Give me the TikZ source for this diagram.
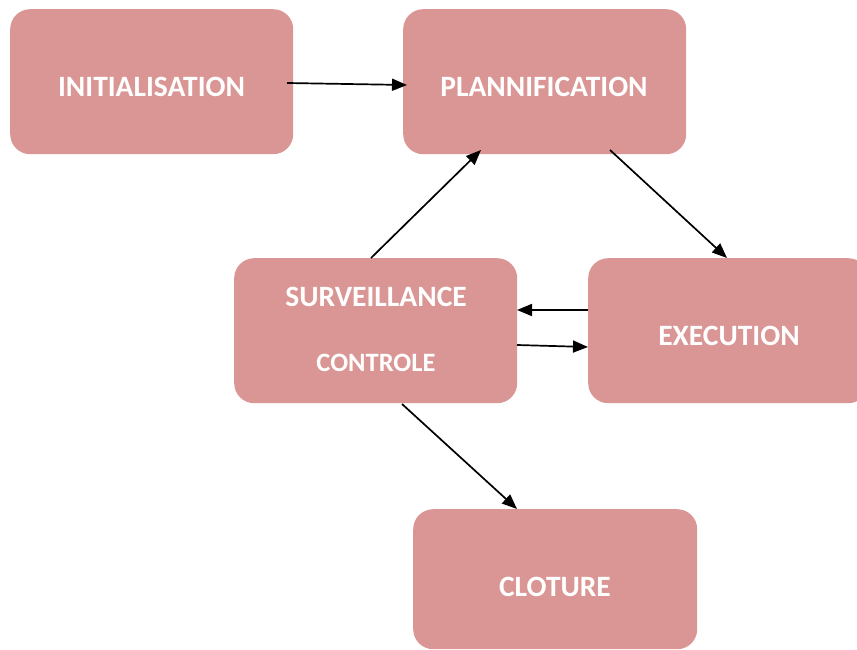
\documentclass[tikz,border=0pt]{standalone}
\usepackage{fontspec}
\setmainfont{Carlito}
\usetikzlibrary{arrows.meta}
\definecolor{boxfill}{HTML}{DA9694}
\begin{document}
\begin{tikzpicture}[x=1pt,y=-1pt,
  stagebox/.style={fill=boxfill,draw=none,rounded corners=20pt,inner sep=0pt},
  lbl/.style={text=white,font=\bfseries\fontsize{29.5}{32}\selectfont,inner sep=0pt},
  conn/.style={draw=black,line width=1.7pt,-{Triangle[length=15pt,width=12pt]}}]
\useasboundingbox (0,0) rectangle (857,650);
\begin{scope}
\clip (0,0) rectangle (857,650);
\node[stagebox,minimum width=283pt,minimum height=145pt,anchor=north west] (init) at (10,9) {};
\node[stagebox,minimum width=283pt,minimum height=145pt,anchor=north west] (plan) at (403,9) {};
\node[stagebox,minimum width=283pt,minimum height=145pt,anchor=north west] (surv) at (234,258) {};
\node[stagebox,minimum width=280pt,minimum height=145pt,anchor=north west] (exec) at (588,258) {};
\node[stagebox,minimum width=284pt,minimum height=140pt,anchor=north west] (clot) at (413,509) {};
\end{scope}
\node[lbl] (tinit) at (151.5,87) {INITIALISATION};
\node[lbl] (tplan) at (544,87) {PLANNIFICATION};
\node[lbl] (tsurv) at (376,297) {SURVEILLANCE};
\node[lbl,font=\bfseries\fontsize{26.5}{29}\selectfont] (tctrl) at (376,363) {CONTROLE};
\node[lbl] (texec) at (729,336) {EXECUTION};
\node[lbl] (tclot) at (555,587) {CLOTURE};
\coordinate (a1s) at (287,83);
\coordinate (a1e) at (407,85);
\draw[conn] (a1s) -- (a1e);
\coordinate (a2s) at (610,150);
\coordinate (a2e) at (727,258);
\draw[conn] (a2s) -- (a2e);
\coordinate (a3s) at (371,258);
\coordinate (a3e) at (481,150);
\draw[conn] (a3s) -- (a3e);
\coordinate (a4s) at (588,310);
\coordinate (a4e) at (517,310);
\draw[conn] (a4s) -- (a4e);
\coordinate (a5s) at (517,345);
\coordinate (a5e) at (588,347);
\draw[conn] (a5s) -- (a5e);
\coordinate (a6s) at (402,404);
\coordinate (a6e) at (517,509);
\draw[conn] (a6s) -- (a6e);
\end{tikzpicture}
\end{document}
